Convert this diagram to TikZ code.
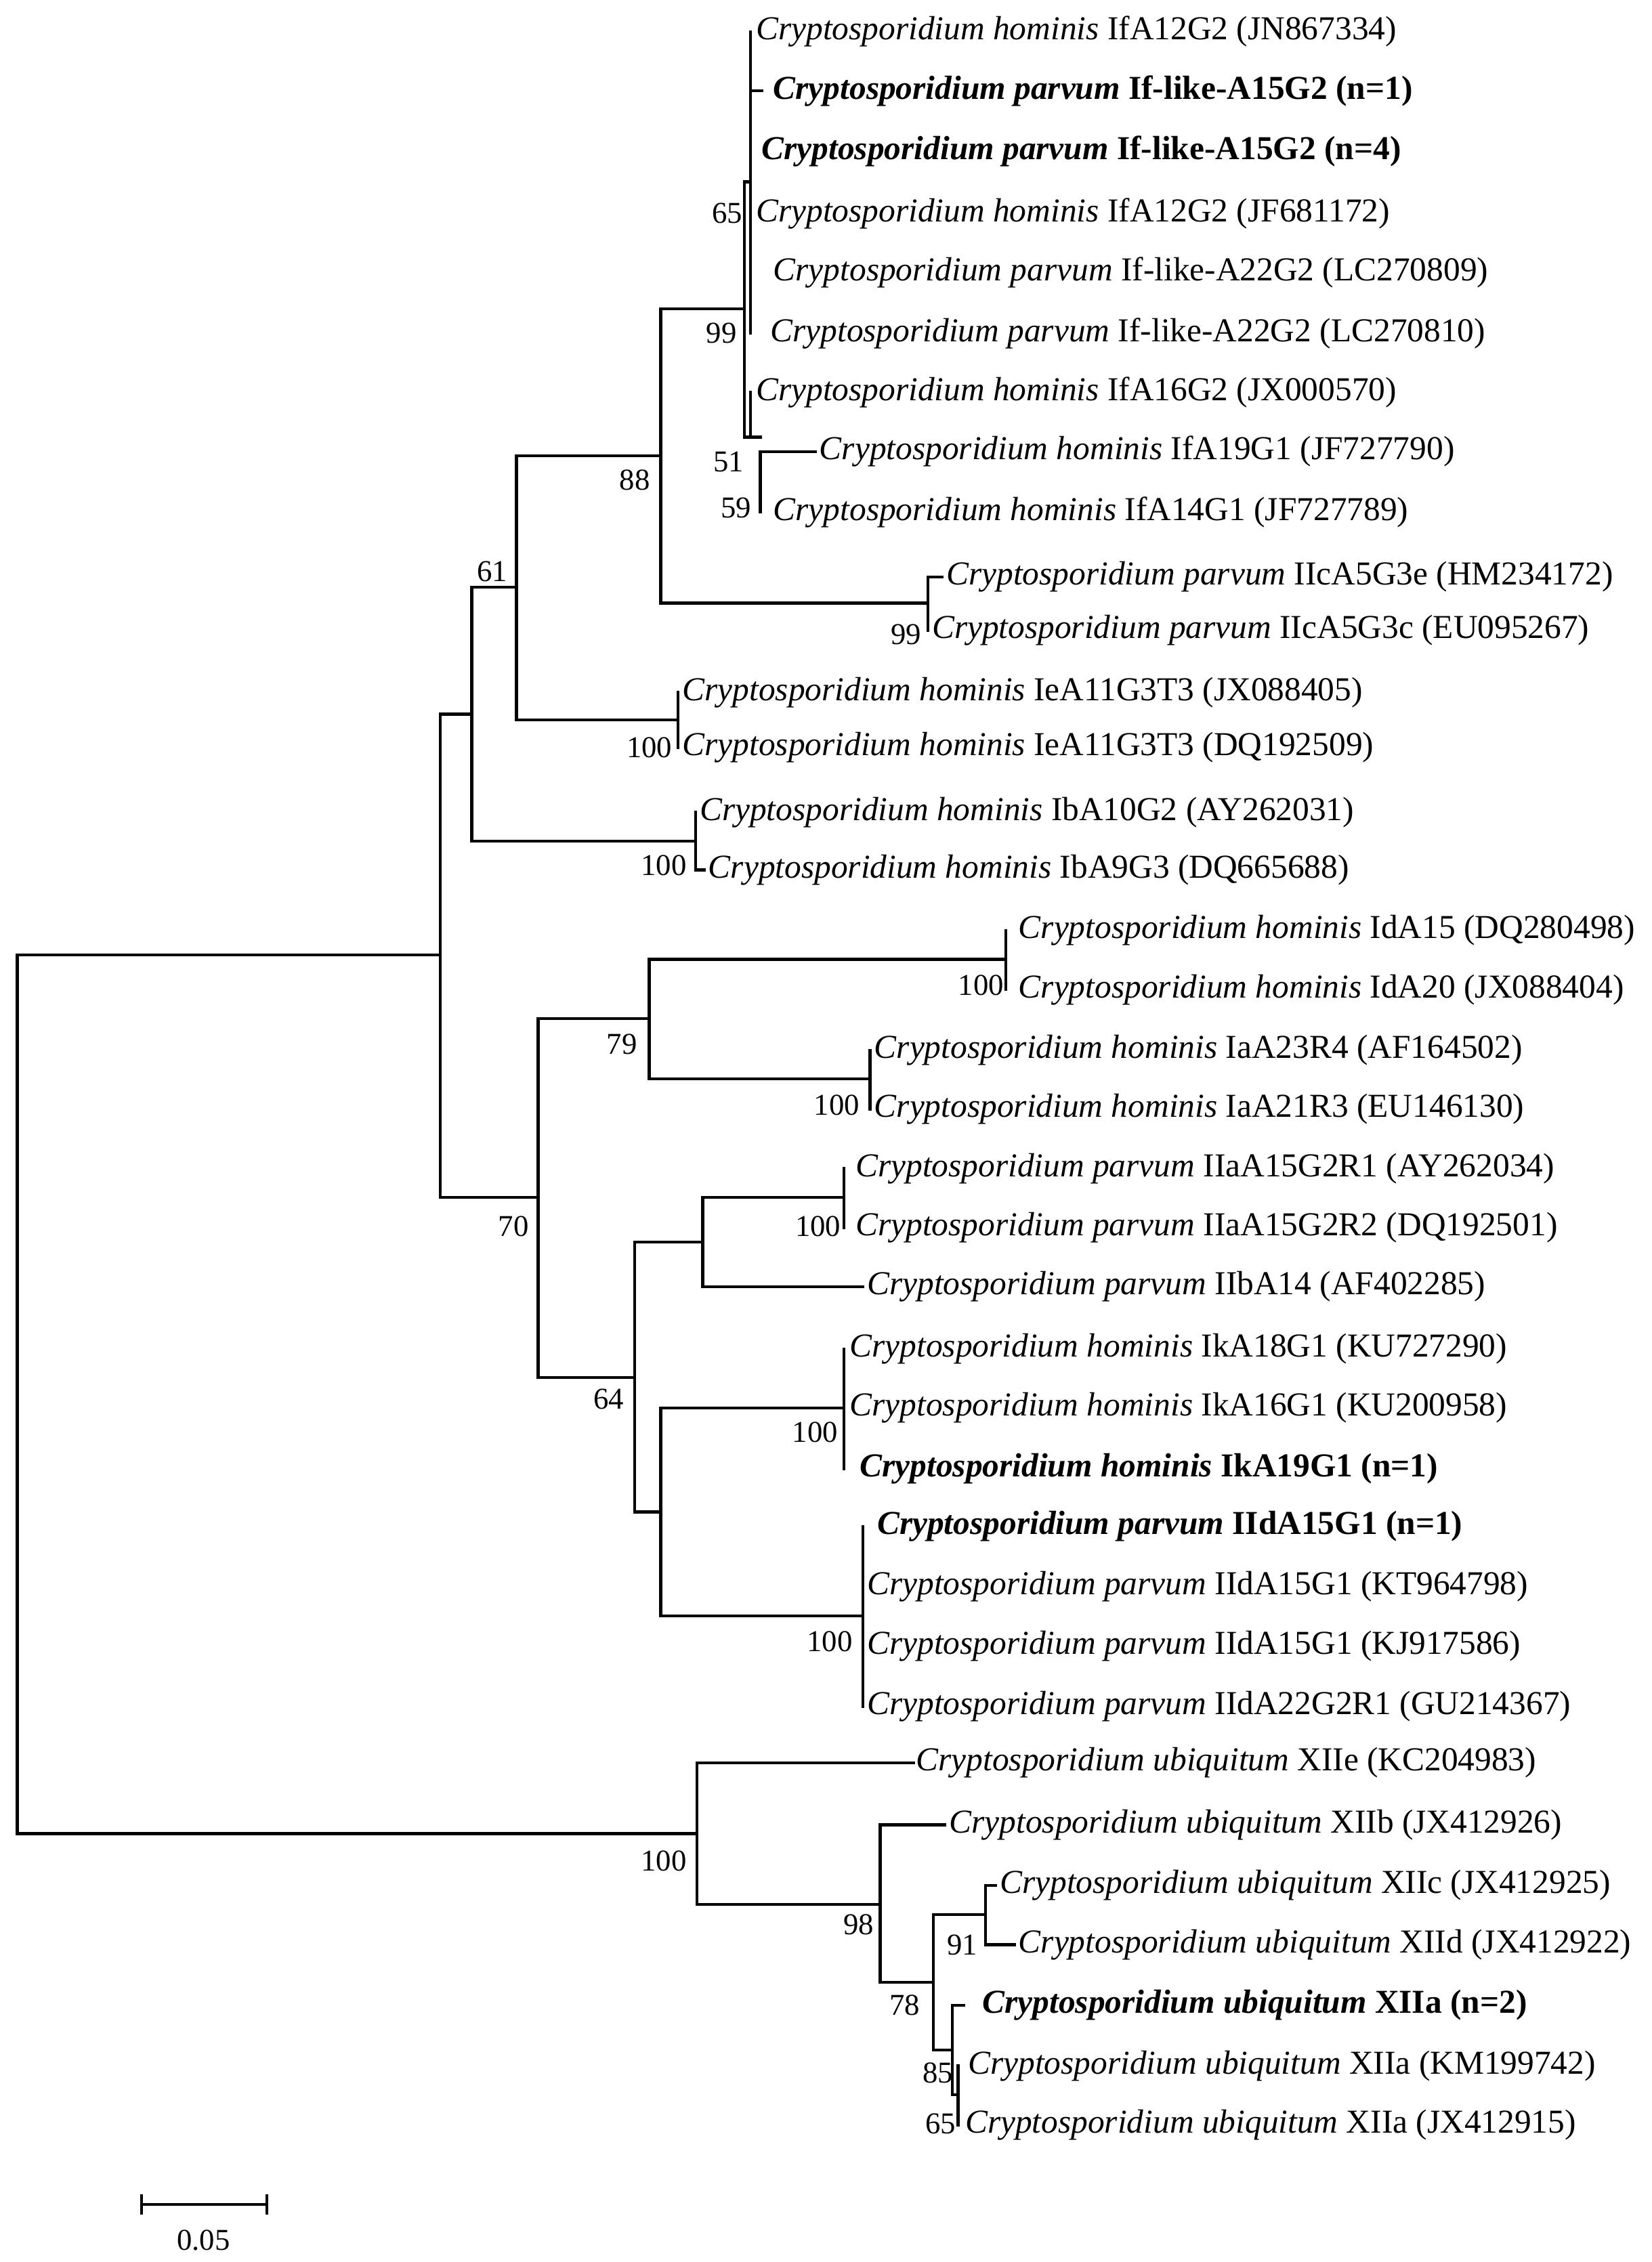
\documentclass[tikz,border=0pt]{standalone}
\usepackage{fontspec}
\setmainfont{Liberation Serif}
\begin{document}
\begin{tikzpicture}[x=1pt,y=-1pt,line width=2pt,
  lf/.style={anchor=west,inner sep=0pt,font=\fontsize{23.2}{26}\selectfont},
  bs/.style={inner sep=0pt,font=\fontsize{21}{24}\selectfont},
  br/.style={line cap=rect}]
\useasboundingbox (0,0) rectangle (1145,1568);
\newcommand{\Ch}{\textit{Cryptosporidium hominis}}
\newcommand{\Cp}{\textit{Cryptosporidium parvum}}
\newcommand{\Cu}{\textit{Cryptosporidium ubiquitum}}
\newcommand{\leaf}[6]{\coordinate (t#1) at (#2,#4); \node[lf] (l#1) at (#3,#4) {#5#6};}
\leaf{1}{520}{523}{22}{}{\Ch{} IfA12G2 (JN867334)}
\leaf{2}{528}{535}{63}{\bfseries}{\textit{Cryptosporidium parvum} If-like-A15G2 (n=1)}
\leaf{3}{520}{527}{105}{\bfseries}{\textit{Cryptosporidium parvum} If-like-A15G2 (n=4)}
\leaf{4}{520}{523}{148}{}{\Ch{} IfA12G2 (JF681172)}
\leaf{5}{520}{535}{189}{}{\Cp{} If-like-A22G2 (LC270809)}
\leaf{6}{520}{533}{231}{}{\Cp{} If-like-A22G2 (LC270810)}
\leaf{7}{520}{523}{272}{}{\Ch{} IfA16G2 (JX000570)}
\leaf{8}{565}{567}{313}{}{\Ch{} IfA19G1 (JF727790)}
\leaf{9}{527}{535}{355}{}{\Ch{} IfA14G1 (JF727789)}
\leaf{10}{653}{655}{400}{}{\Cp{} IIcA5G3e (HM234172)}
\leaf{11}{643}{645}{437}{}{\Cp{} IIcA5G3c (EU095267)}
\leaf{12}{470}{472}{480}{}{\Ch{} IeA11G3T3 (JX088405)}
\leaf{13}{470}{472}{518}{}{\Ch{} IeA11G3T3 (DQ192509)}
\leaf{14}{482}{484}{563}{}{\Ch{} IbA10G2 (AY262031)}
\leaf{15}{488}{490}{603}{}{\Ch{} IbA9G3 (DQ665688)}
\leaf{16}{697}{705}{645}{}{\Ch{} IdA15 (DQ280498)}
\leaf{17}{697}{705}{686}{}{\Ch{} IdA20 (JX088404)}
\leaf{18}{603}{605}{728}{}{\Ch{} IaA23R4 (AF164502)}
\leaf{19}{603}{605}{769}{}{\Ch{} IaA21R3 (EU146130)}
\leaf{20}{585}{592}{810}{}{\Cp{} IIaA15G2R1 (AY262034)}
\leaf{21}{585}{592}{851}{}{\Cp{} IIaA15G2R2 (DQ192501)}
\leaf{22}{598}{600}{892}{}{\Cp{} IIbA14 (AF402285)}
\leaf{23}{585}{588}{935}{}{\Ch{} IkA18G1 (KU727290)}
\leaf{24}{585}{588}{976}{}{\Ch{} IkA16G1 (KU200958)}
\leaf{25}{585}{595}{1018}{\bfseries}{\textit{Cryptosporidium hominis} IkA19G1 (n=1)}
\leaf{26}{598}{607}{1058}{\bfseries}{\textit{Cryptosporidium parvum} IIdA15G1 (n=1)}
\leaf{27}{598}{600}{1100}{}{\Cp{} IIdA15G1 (KT964798)}
\leaf{28}{598}{600}{1141}{}{\Cp{} IIdA15G1 (KJ917586)}
\leaf{29}{598}{600}{1183}{}{\Cp{} IIdA22G2R1 (GU214367)}
\leaf{30}{633}{634}{1222}{}{\Cu{} XIIe (KC204983)}
\leaf{31}{655}{657}{1265}{}{\Cu{} XIIb (JX412926)}
\leaf{32}{690}{692}{1307}{}{\Cu{} XIIc (JX412925)}
\leaf{33}{703}{705}{1348}{}{\Cu{} XIId (JX412922)}
\leaf{34}{668}{680}{1390}{\bfseries}{\textit{Cryptosporidium ubiquitum} XIIa (n=2)}
\leaf{35}{664}{670}{1432}{}{\Cu{} XIIa (KM199742)}
\leaf{36}{664}{668}{1473}{}{\Cu{} XIIa (JX412915)}
% internal nodes
\coordinate (n65) at (520,126);
\coordinate (n59) at (527,334);
\coordinate (n51) at (520,303);
\coordinate (n99) at (516,214);
\coordinate (nIIc) at (643,418);
\coordinate (n88) at (458,316);
\coordinate (nIe) at (470,499);
\coordinate (n61) at (358,407);
\coordinate (nIb) at (482,583);
\coordinate (nA) at (327,495);
\coordinate (nId) at (697,665);
\coordinate (nIa) at (603,748);
\coordinate (n79) at (450,706);
\coordinate (nIIa) at (585,830);
\coordinate (nIIab) at (487,861);
\coordinate (nIk) at (585,976);
\coordinate (nIId) at (598,1120);
\coordinate (nK) at (458,1048);
\coordinate (n64) at (440,955);
\coordinate (n70) at (373,830);
\coordinate (nB) at (305,662);
\coordinate (n91) at (683,1327);
\coordinate (nXa) at (664,1452);
\coordinate (n85) at (660,1421);
\coordinate (n78) at (647,1374);
\coordinate (n98) at (610,1320);
\coordinate (nU) at (483,1271);
\coordinate (root) at (12,966);
\begin{scope}[br]
\draw (t1) -- (t6);
\draw (n65 |- t2) -- (t2);
\draw (t8) -| (n59) |- (t9);
\draw (t7) -- (n51) -- (n51 -| n59);
\draw (n65) -| (n99) |- (n51);
\draw (t10) -| (nIIc) |- (t11);
\draw (n99) -| (n88) |- (nIIc);
\draw (t12) -- (t13);
\draw (n88) -| (n61) |- (nIe);
\draw (t14) -| (nIb) |- (t15);
\draw (n61) -| (nA) |- (nIb);
\draw (t16) -- (t17);
\draw (t18) -- (t19);
\draw (nId) -| (n79) |- (nIa);
\draw (t20) -- (t21);
\draw (nIIa) -| (nIIab) |- (t22);
\draw (t23) -- (t25);
\draw (t26) -- (t29);
\draw (nIk) -| (nK) |- (nIId);
\draw (nIIab) -| (n64) |- (nK);
\draw (n79) -| (n70) |- (n64);
\draw (nA) -| (nB) |- (n70);
\draw (t32) -| (n91) |- (t33);
\draw (t35) -- (t36);
\draw (t34) -| (n85) |- (nXa);
\draw (n91) -| (n78) |- (n85);
\draw (t31) -| (n98) |- (n78);
\draw (t30) -| (nU) |- (n98);
\draw (nB) -| (root) |- (nU);
\end{scope}
% bootstrap
\foreach \p/\t in {{504,148}/65,{500,231}/99,{505,320}/51,{510,352}/59,{628,440}/99,{440,333}/88,{450,518}/100,{341,396}/61,{460,600}/100,{680,683}/100,{431,724}/79,{580,766}/100,{567,850}/100,{356,850}/70,{422,970}/64,{565,993}/100,{575,1138}/100,{460,1290}/100,{595,1334}/98,{667,1348}/91,{627,1390}/78,{650,1437}/85,{652,1472}/65}
  \node[bs] at (\p) {\t};
% scale bar
\coordinate (sa) at (98,1528);
\coordinate (sb) at (185,1528);
\draw (sa) -- (sb);
\draw (98,1521) -- (98,1535);
\draw (185,1521) -- (185,1535);
\node[bs] (sl) at (141,1553) {0.05};
\end{tikzpicture}
\end{document}
